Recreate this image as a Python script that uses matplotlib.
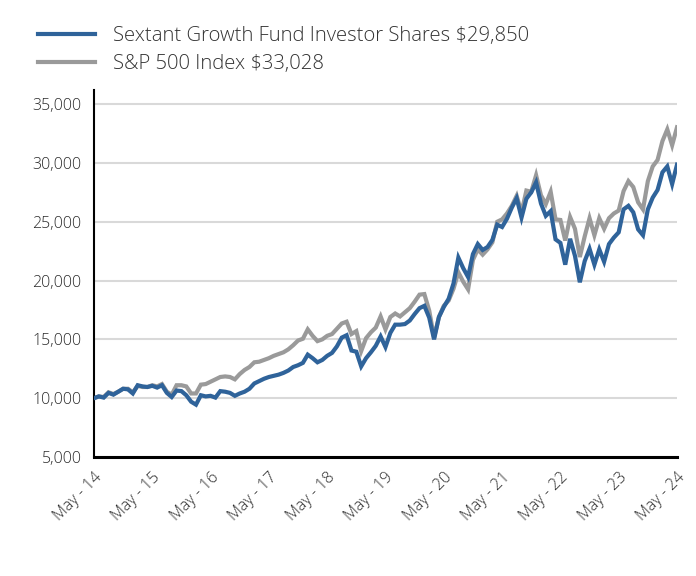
import matplotlib
matplotlib.use("Agg")
import matplotlib.pyplot as plt
import numpy as np

fund_label = "Sextant Growth Fund Investor Shares $29,850"
index_label = "S&P 500 Index $33,028"

fund = [10000, 10150, 10050, 10450, 10300, 10550, 10800, 10750, 10400, 11100,
        11000, 10950, 11050, 10900, 11100, 10450, 10100, 10650, 10600, 10250,
        9700, 9450, 10250, 10150, 10200, 10050, 10600, 10550, 10450, 10200,
        10400, 10550, 10800, 11250, 11450, 11650, 11800, 11900, 12000, 12150,
        12350, 12650, 12800, 13000, 13700, 13400, 13050, 13250, 13600, 13850,
        14400, 15150, 15350, 14050, 13950, 12700, 13400, 13900, 14450, 15250,
        14350, 15550, 16250, 16250, 16300, 16600, 17150, 17650, 17850, 16850,
        15000, 16900, 17750, 18450, 19750, 21950, 21050, 20300, 22250, 23100,
        22600, 22850, 23450, 24750, 24550, 25250, 26200, 27000, 25350, 26950,
        27500, 28350, 26550, 25500, 25900, 23500, 23200, 21350, 23550, 22100,
        19850, 21650, 22700, 21350, 22650, 21600, 23100, 23650, 24100, 26050,
        26350, 25800, 24350, 23850, 26050, 27050, 27700, 29200, 29700, 28200,
        29850]

sp500 = [10000, 10150, 10100, 10500, 10350, 10550, 10800, 10800, 10500, 11050,
         10950, 10950, 11100, 11000, 11200, 10550, 10300, 11100, 11100, 11000,
         10400, 10400, 11150, 11200, 11400, 11600, 11800, 11850, 11800, 11600,
         12050, 12400, 12650, 13050, 13100, 13250, 13400, 13600, 13750, 13900,
         14150, 14500, 14900, 15050, 15850, 15300, 14850, 15000, 15300, 15450,
         15900, 16350, 16500, 15450, 15700, 14000, 15100, 15600, 16000, 16950,
         15850, 16900, 17200, 16950, 17300, 17650, 18200, 18800, 18850, 17450,
         15150, 16900, 17850, 18300, 19300, 20700, 19900, 19250, 21750, 22650,
         22200, 22650, 23250, 25000, 25200, 25700, 26350, 27200, 25800, 27650,
         27550, 28950, 27250, 26500, 27550, 25200, 25150, 23400, 25400, 24400,
         22000, 23750, 25300, 23850, 25300, 24400, 25300, 25700, 25950, 27600,
         28450, 27950, 26650, 26050, 28450, 29700, 30250, 31850, 32850, 31500,
         33028]

x_tick_labels = ["May - 14", "May - 15", "May - 16", "May - 17", "May - 18",
                 "May - 19", "May - 20", "May - 21", "May - 22", "May - 23", "May - 24"]
y_ticks = [5000, 10000, 15000, 20000, 25000, 30000, 35000]

plt.rcParams['font.family'] = ['Open Sans', 'DejaVu Sans']
plt.rcParams['font.weight'] = 'light'

fig = plt.figure(figsize=(6.96, 5.76), dpi=100)
ax = fig.add_axes([0.135, 0.2066, 0.8377, 0.6372])

months = np.arange(len(fund))
l1, = ax.plot(months, fund, color="#2F639A", lw=3.0, zorder=3, solid_joinstyle="miter")
l2, = ax.plot(months, sp500, color="#9A9A9A", lw=3.0, zorder=2, solid_joinstyle="miter")

ax.set_xlim(0, 120)
ax.set_ylim(5000, 36200)
ax.set_yticks(y_ticks)
ax.set_yticklabels([f"{v:,}" for v in y_ticks])
ax.set_xticks(np.arange(0, 121, 12))
ax.set_xticklabels(x_tick_labels, rotation=45, ha="right", rotation_mode="anchor")

ax.tick_params(axis="both", length=0, labelsize=11.5, labelcolor="#2B2B2B")
ax.tick_params(axis="y", pad=9)
ax.tick_params(axis="x", pad=9)

ax.grid(axis="y", color="#D9D9D9", lw=1.5, zorder=0)
ax.set_axisbelow(True)
for s in ["top", "right"]:
    ax.spines[s].set_visible(False)
ax.spines["left"].set_color("black")
ax.spines["left"].set_linewidth(1.5)
ax.spines["bottom"].set_color("black")
ax.spines["bottom"].set_linewidth(2.2)

fig.legend([l1, l2], [fund_label, index_label], loc="upper left",
           bbox_to_anchor=(0.028, 0.987), frameon=False, fontsize=14.6,
           handlelength=2.8, handletextpad=0.9, labelspacing=0.42,
           labelcolor="#333333")

fig.savefig("out.png", dpi=100)
